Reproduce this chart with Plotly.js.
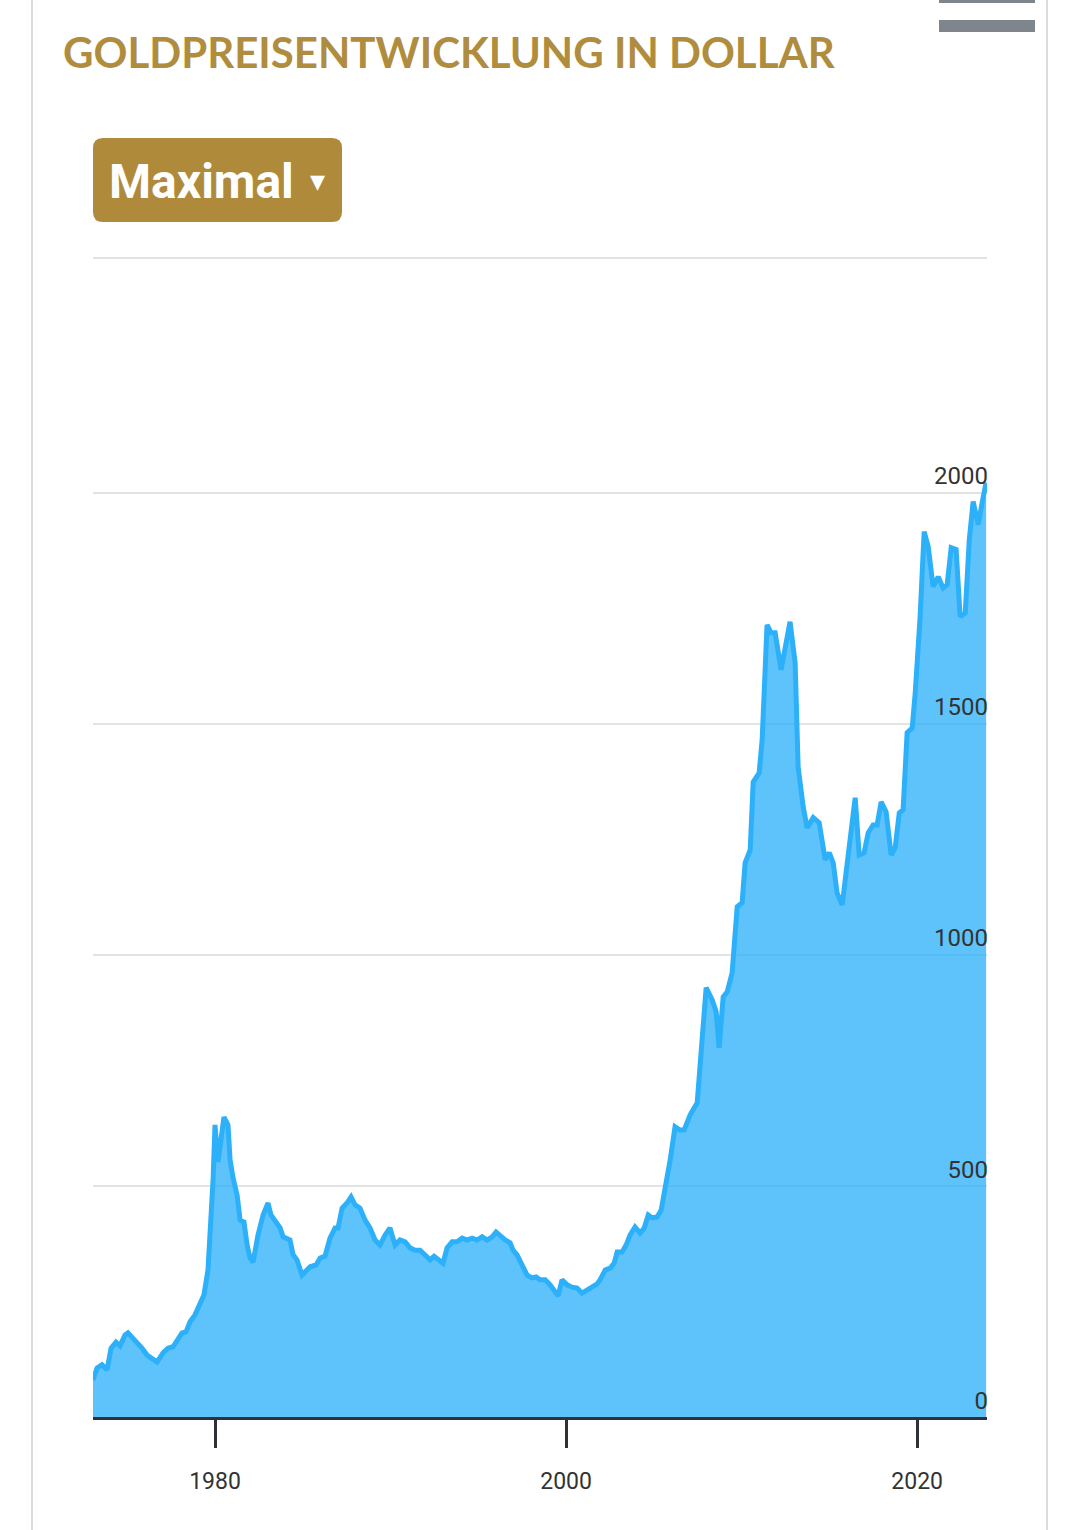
<!DOCTYPE html>
<html>
<head>
<meta charset="utf-8">
<script src="https://cdn.plot.ly/plotly-3.0.1.min.js"></script>
<style>html,body{margin:0;padding:0;background:#fff;}#chart{width:1080px;height:1530px;}</style>
</head>
<body>
<div id="chart"></div>
<script>
// Gold price in USD
const years = [1973.05,1973.28,1973.56,1973.85,1974.08,1974.36,1974.59,1974.87,1975.04,1975.44,1975.84,1976.13,1976.47,1976.70,1977.04,1977.32,1977.61,1977.89,1978.12,1978.35,1978.58,1978.86,1979.15,1979.37,1979.60,1979.77,1979.89,1980.00,1980.17,1980.34,1980.51,1980.74,1980.86,1981.03,1981.26,1981.43,1981.65,1981.83,1982.00,1982.17,1982.45,1982.74,1983.02,1983.19,1983.42,1983.71,1983.88,1984.27,1984.45,1984.67,1984.96,1985.19,1985.42,1985.76,1985.99,1986.27,1986.55,1986.84,1987.01,1987.24,1987.52,1987.75,1987.98,1988.26,1988.55,1988.83,1989.12,1989.40,1989.69,1989.97,1990.26,1990.54,1990.83,1991.11,1991.40,1991.68,1991.97,1992.25,1992.48,1992.65,1992.99,1993.22,1993.51,1993.79,1994.08,1994.36,1994.65,1994.93,1995.22,1995.50,1995.79,1996.01,1996.24,1996.53,1996.81,1996.98,1997.21,1997.49,1997.78,1998.06,1998.29,1998.52,1998.81,1999.09,1999.37,1999.55,1999.77,2000.06,2000.34,2000.63,2000.91,2001.20,2001.48,2001.77,2001.94,2002.23,2002.51,2002.74,2002.91,2003.19,2003.42,2003.65,2003.93,2004.22,2004.45,2004.68,2004.90,2005.19,2005.42,2005.64,2005.93,2006.21,2006.50,2006.73,2007.07,2007.47,2007.64,2007.81,2007.98,2008.32,2008.55,2008.72,2008.95,2009.18,2009.46,2009.75,2010.03,2010.20,2010.49,2010.66,2011.00,2011.17,2011.45,2011.68,2011.91,2012.25,2012.76,2013.05,2013.22,2013.51,2013.73,2014.08,2014.42,2014.76,2014.99,2015.22,2015.44,2015.73,2016.07,2016.47,2016.70,2016.98,2017.21,2017.49,2017.72,2017.95,2018.23,2018.52,2018.75,2018.98,2019.20,2019.43,2019.72,2019.89,2020.17,2020.40,2020.63,2020.91,2021.20,2021.48,2021.71,2021.94,2022.22,2022.45,2022.74,2022.97,2023.19,2023.48,2023.70,2023.93];
const prices = [80,106,113,102,149,162,154,177,182,167,149,134,123,119,139,149,152,167,182,184,206,221,247,264,318,416,513,632,552,600,649,632,556,517,480,426,422,372,344,335,394,437,463,437,426,409,390,383,351,340,307,318,325,329,344,348,387,409,409,452,463,476,459,452,426,409,383,372,394,409,372,383,379,366,361,361,351,340,348,344,333,366,379,379,387,383,387,383,390,383,390,400,392,383,377,361,351,329,307,301,303,297,297,286,271,262,297,286,281,279,268,275,281,288,297,318,322,333,357,357,372,394,411,398,409,437,431,433,448,491,556,628,621,621,654,680,773,859,929,903,877,799,909,920,961,1104,1113,1199,1227,1374,1394,1465,1714,1697,1697,1617,1721,1632,1407,1320,1275,1297,1286,1206,1221,1199,1134,1108,1212,1340,1216,1221,1264,1281,1281,1331,1310,1216,1232,1307,1314,1481,1491,1567,1732,1916,1883,1797,1818,1794,1801,1881,1877,1732,1740,1898,1981,1931,1978,2022];
const xTickVals = [1980, 2000, 2020];
const xTickText = ['1980', '2000', '2020'];
const yTickVals = [0, 500, 1000, 1500, 2000];
const yTickText = ['0', '500', '1000', '1500', '2000'];
const titleText = 'GOLDPREISENTWICKLUNG IN DOLLAR';
const buttonText = 'Maximal';
const buttonArrow = '▾';

// pixel helpers for decoration placement (plot area 93..987 x 258..1417)
const L = 93, R = 987, T = 258, B = 1417;
const px = x => (x - L) / (R - L);
const py = y => (B - y) / (B - T);

function roundRect(x0, y0, x1, y1, r) {
  const X0 = px(x0), X1 = px(x1), Y0 = py(y0), Y1 = py(y1);
  const rx = r / (R - L), ry = r / (B - T);
  return `M${X0 + rx},${Y0} L${X1 - rx},${Y0} Q${X1},${Y0} ${X1},${Y0 - ry} L${X1},${Y1 + ry} Q${X1},${Y1} ${X1 - rx},${Y1} L${X0 + rx},${Y1} Q${X0},${Y1} ${X0},${Y1 + ry} L${X0},${Y0 - ry} Q${X0},${Y0} ${X0 + rx},${Y0} Z`;
}

const trace = {
  x: years, y: prices, type: 'scatter', mode: 'lines',
  line: {color: 'rgb(44,176,250)', width: 5, shape: 'linear'},
  fill: 'tozeroy', fillcolor: 'rgba(44,176,250,0.76)',
  hoverinfo: 'skip'
};

const layout = {
  width: 1080, height: 1530,
  margin: {l: L, r: 1080 - R, t: T, b: 1530 - B, pad: 0},
  paper_bgcolor: '#fff', plot_bgcolor: '#fff',
  showlegend: false,
  title: {
    text: titleText, xref: 'container', yref: 'container',
    x: 63 / 1080, xanchor: 'left', y: 1 - 53 / 1530, yanchor: 'middle',
    font: {family: 'Lato', size: 42, color: '#b08d3e', weight: 700}
  },
  xaxis: {
    range: [1973.05, 2023.98], tickvals: xTickVals, ticktext: xTickText,
    showgrid: false, zeroline: false,
    showline: true, linecolor: '#2e3236', linewidth: 3,
    ticks: 'outside', ticklen: 28, tickwidth: 3, tickcolor: '#2e3236',
    tickfont: {family: 'Roboto', size: 23, color: '#333'},
    ticklabelstandoff: 13,
    fixedrange: true
  },
  yaxis: {
    range: [0, 2508], tickvals: yTickVals, ticktext: yTickText,
    side: 'right', ticklabelposition: 'inside top',
    showgrid: true, gridcolor: '#e3e3e3', gridwidth: 2,
    zeroline: false, showline: false, ticks: '',
    tickfont: {family: 'Roboto', size: 24, color: '#333'},
    ticklabelstandoff: -4,
    fixedrange: true
  },
  shapes: [
    {type: 'line', xref: 'paper', yref: 'paper', x0: 0, x1: 1, y0: 1, y1: 1, line: {color: '#e3e3e3', width: 2}},
    {type: 'line', xref: 'paper', yref: 'paper', x0: px(32), x1: px(32), y0: py(0), y1: py(1530), line: {color: '#dcdcdc', width: 2}},
    {type: 'line', xref: 'paper', yref: 'paper', x0: px(1047), x1: px(1047), y0: py(0), y1: py(1530), line: {color: '#dcdcdc', width: 2}},
    {type: 'rect', xref: 'paper', yref: 'paper', x0: px(939), x1: px(1035), y0: py(0), y1: py(3), fillcolor: '#7f858c', line: {width: 0}},
    {type: 'rect', xref: 'paper', yref: 'paper', x0: px(939), x1: px(1035), y0: py(20), y1: py(32), fillcolor: '#7f858c', line: {width: 0}},
    {type: 'path', xref: 'paper', yref: 'paper', path: roundRect(93, 138, 342, 222, 10), fillcolor: '#b08a3b', line: {width: 0}}
  ],
  annotations: [
    {xref: 'paper', yref: 'paper', x: px(107), y: py(181), xanchor: 'left', yanchor: 'middle', showarrow: false,
     text: buttonText, font: {family: 'Roboto', size: 48, color: '#ffffff', weight: 700}},
    {xref: 'paper', yref: 'paper', x: px(317), y: py(180), xanchor: 'center', yanchor: 'middle', showarrow: false,
     text: buttonArrow, font: {family: 'DejaVu Sans', size: 30, color: '#ffffff'}}
  ]
};

Plotly.newPlot('chart', [trace], layout, {displayModeBar: false, staticPlot: true});
</script>
</body>
</html>
